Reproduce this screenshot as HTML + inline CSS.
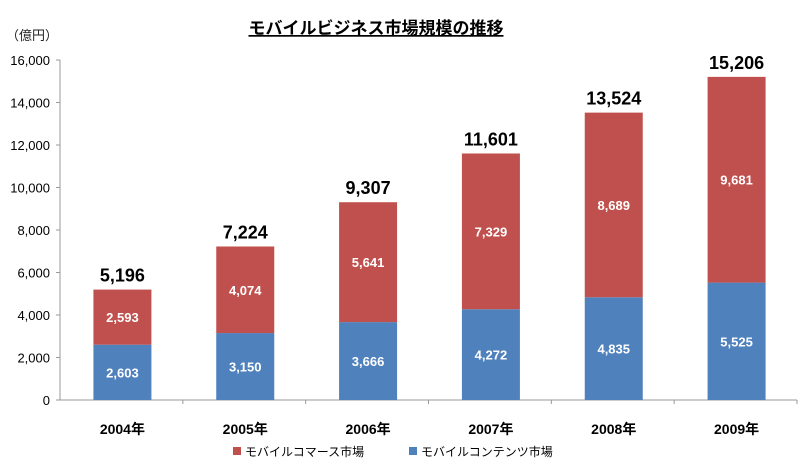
<!DOCTYPE html>
<html><head><meta charset="utf-8"><style>
body{margin:0;background:#fff;}
svg text{font-family:"Liberation Sans","Noto Sans CJK JP",sans-serif;}
</style></head><body>
<svg id="chart" width="800" height="469" viewBox="0 0 800 469" xmlns="http://www.w3.org/2000/svg">
<text x="376" y="34" text-anchor="middle" font-size="17" font-weight="bold" fill="#000" text-decoration="underline">モバイルビジネス市場規模の推移</text>
<text x="6" y="40" font-size="13" fill="#222">（億円）</text>
<g id="yaxis"></g>
<g id="bars"></g>
<g>
<g><rect x="233" y="447" width="8" height="8" fill="#c0504d"/><text x="245" y="456" font-size="12" fill="#000">モバイルコマース市場</text></g>
<g><rect x="409" y="447" width="8" height="8" fill="#4f81bd"/><text x="421" y="456" font-size="12" fill="#000">モバイルコンテンツ市場</text></g>
</g>
</svg>
<script>
const categories=["2004年","2005年","2006年","2007年","2008年","2009年"];
const contentValues=[2603,3150,3666,4272,4835,5525];
const commerceValues=[2593,4074,5641,7329,8689,9681];
const totalValues=[5196,7224,9307,11601,13524,15206];
const yTicks=[0,2000,4000,6000,8000,10000,12000,14000,16000];
const NS="http://www.w3.org/2000/svg";
const x0=60,x1=797,yBase=400,yTop=60,yMax=16000;
const y=v=>yBase-(v/yMax)*(yBase-yTop);
const band=(x1-x0)/categories.length;
const xc=i=>x0+band*(i+0.5);
const bw=58;
const fmt=v=>v.toLocaleString("en-US");
function mk(tag,attrs,parent,text){const e=document.createElementNS(NS,tag);for(const k in attrs)e.setAttribute(k,attrs[k]);if(text!==undefined)e.textContent=text;parent.appendChild(e);return e;}
const ya=document.getElementById("yaxis");
const ax=mk("line",{x1:x0,y1:yTop,x2:x0,y2:yBase,stroke:"#999","stroke-width":1},ya);


const xl=mk("line",{x1:x0,y1:yBase,x2:x1,y2:yBase,stroke:"#999","stroke-width":1},ya);


yTicks.forEach(t=>{
  mk("line",{x1:x0-4,y1:y(t),x2:x0,y2:y(t),stroke:"#999"},ya);
  const tl=mk("text",{x:x0-10,y:y(t)+5,"text-anchor":"end","font-size":13,fill:"#000"},ya,fmt(t));
  
  
});
const bars=document.getElementById("bars");
categories.forEach((c,i)=>{
  const cx=xc(i)+1;
  mk("line",{x1:x0+band*(i+1),y1:yBase,x2:x0+band*(i+1),y2:yBase+4,stroke:"#999"},bars);
  const b1=mk("rect",{x:cx-bw/2,y:y(contentValues[i]),width:bw,height:yBase-y(contentValues[i]),fill:"#4f81bd"},bars);
  
  
  const top=contentValues[i]+commerceValues[i];
  const b2=mk("rect",{x:cx-bw/2,y:y(top),width:bw,height:y(contentValues[i])-y(top),fill:"#c0504d"},bars);
  
  
  const l1=mk("text",{x:cx,y:(y(contentValues[i])+yBase)/2+5,"text-anchor":"middle","font-size":13,"font-weight":"bold",fill:"#fff"},bars,fmt(contentValues[i]));
  
  
  const l2=mk("text",{x:cx,y:(y(top)+y(contentValues[i]))/2+5,"text-anchor":"middle","font-size":13,"font-weight":"bold",fill:"#fff"},bars,fmt(commerceValues[i]));
  
  
  const l3=mk("text",{x:cx,y:y(totalValues[i])-8,"text-anchor":"middle","font-size":18,"font-weight":"bold",fill:"#000"},bars,fmt(totalValues[i]));
  
  
  const cl=mk("text",{x:cx,y:434,"text-anchor":"middle","font-size":14,"font-weight":"bold",fill:"#000"},bars,c);
  
  
});
</script>
</body></html>
